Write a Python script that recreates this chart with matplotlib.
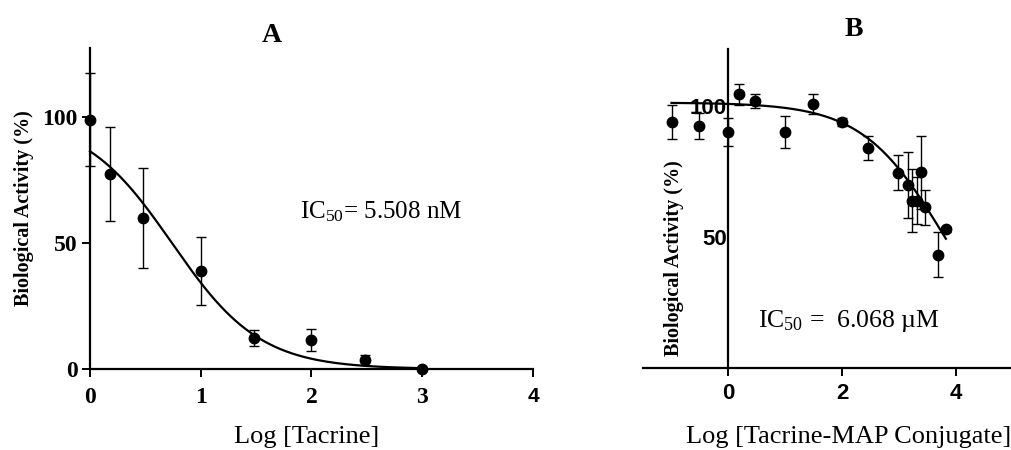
import numpy as np
from matplotlib import pyplot as plt

plt.rcParams['mathtext.fontset'] = 'custom'
plt.rcParams['mathtext.rm'] = 'Liberation Serif'
plt.rcParams['mathtext.it'] = 'Liberation Serif:italic'

SERIF = 'Liberation Serif'
SANS = 'Liberation Sans'

# Panel A - Tacrine
tac_x = [0.0, 0.18, 0.48, 1.0, 1.48, 2.0, 2.48, 3.0]
tac_y = [99.0, 77.5, 60.0, 39.0, 12.3, 11.5, 3.6, 0.0]
tac_err = [18.5, 18.5, 20.0, 13.5, 3.0, 4.5, 2.0, 0.0]
tac_fit = {'top': 100.0, 'bottom': 0.0, 'log_ic50': np.log10(5.508), 'hill': 1.09}

# Panel B - Tacrine-MAP conjugate
map_x = [-0.99, -0.51, 0.0, 0.19, 0.47, 1.0, 1.48, 2.0, 2.46, 2.98,
         3.16, 3.23, 3.31, 3.39, 3.46, 3.68, 3.82]
map_y = [94.0, 92.7, 90.2, 104.6, 102.0, 90.2, 100.8, 94.0, 84.1, 74.6,
         70.1, 64.0, 64.0, 74.8, 61.5, 43.3, 53.1]
map_err = [6.5, 5.0, 5.3, 4.0, 2.7, 6.2, 3.8, 1.5, 4.5, 6.7,
           12.6, 12.0, 9.0, 14.0, 6.7, 8.6, 1.0]
map_fit = {'top': 101.5, 'bottom': 0.0, 'log_ic50': np.log10(6068.0), 'hill': 0.606}


def logistic(x, top, bottom, log_ic50, hill):
    return bottom + (top - bottom) / (1.0 + 10 ** ((x - log_ic50) * hill))


def draw_points(ax, x, y, err):
    ax.errorbar(x, y, yerr=err, fmt='o', color='black', ms=7.5, elinewidth=1,
                capsize=3.5, capthick=1, clip_on=False, zorder=3)


fig = plt.figure(figsize=(10.12, 4.5), dpi=100)

# ---- A ----
axA = fig.add_axes([0.0889, 0.18, 0.4378, 0.713])
draw_points(axA, tac_x, tac_y, tac_err)
xs = np.linspace(0, 3, 200)
axA.plot(xs, logistic(xs, **tac_fit), color='black', lw=1.6, clip_on=False)
axA.set_xlim(0, 4)
axA.set_ylim(0, 127.5)
axA.set_xticks([0, 1, 2, 3, 4])
axA.set_yticks([0, 50, 100])
for s in ['top', 'right']:
    axA.spines[s].set_visible(False)
for s in ['left', 'bottom']:
    axA.spines[s].set_linewidth(1.6)
axA.tick_params(width=1.4, length=6)
axA.tick_params(axis='x', pad=7)
axA.tick_params(axis='y', pad=3)
for lab in axA.get_xticklabels() + axA.get_yticklabels():
    lab.set_fontfamily(SERIF)
    lab.set_fontweight('bold')
    lab.set_fontsize(17)
axA.get_xticklabels()[-1].set_fontfamily(SANS)
axA.get_xticklabels()[-1].set_fontsize(15)
axA.set_xlabel('Log [Tacrine]', fontfamily=SERIF, fontsize=19, va='center')
axA.xaxis.set_label_coords(0.49, -0.212)
axA.set_ylabel('Biological Activity (%)', fontfamily=SERIF, fontweight='bold',
               fontsize=14.5, labelpad=6)
axA.set_title('A', fontfamily=SERIF, fontweight='bold', fontsize=20, pad=1,
              x=0.41)
axA.text(0.475, 0.49, r'IC$_{\mathrm{50}}$= 5.508 nM', transform=axA.transAxes,
         fontfamily=SERIF, fontsize=18, va='center', ha='left')

# ---- B ----
axB = fig.add_axes([0.6354, 0.1822, 0.3656, 0.709])
draw_points(axB, map_x, map_y, map_err)
xs = np.linspace(-1.0, 3.82, 200)
axB.plot(xs, logistic(xs, **map_fit), color='black', lw=1.6)
axB.set_xlim(-1.5, 5)
axB.set_ylim(0, 122)
axB.set_xticks([0, 2, 4])
axB.set_yticks([50, 100])
axB.spines['left'].set_position(('data', 0))
for s in ['top', 'right']:
    axB.spines[s].set_visible(False)
for s in ['left', 'bottom']:
    axB.spines[s].set_linewidth(1.6)
axB.tick_params(axis='x', width=1.4, length=6, pad=5)
axB.tick_params(axis='y', width=1.4, length=0, pad=1)
for lab in axB.get_xticklabels() + axB.get_yticklabels():
    lab.set_fontfamily(SANS)
    lab.set_fontweight('bold')
    lab.set_fontsize(16)
axB.set_xlabel('Log [Tacrine-MAP Conjugate]', fontfamily=SERIF, fontsize=19,
               va='center')
axB.xaxis.set_label_coords(0.555, -0.216)
axB.text(-0.96, 42, 'Biological Activity (%)', rotation=90, fontfamily=SERIF,
         fontweight='bold', fontsize=14.5, ha='center', va='center')
axB.set_title('B', fontfamily=SERIF, fontweight='bold', fontsize=20, pad=9,
              x=0.57)
axB.text(0.52, 18, r'IC$_{\mathrm{50}}$ =  6.068 µM', fontfamily=SERIF,
         fontsize=18.5, va='center', ha='left')

fig.savefig('out.png', dpi=100)
